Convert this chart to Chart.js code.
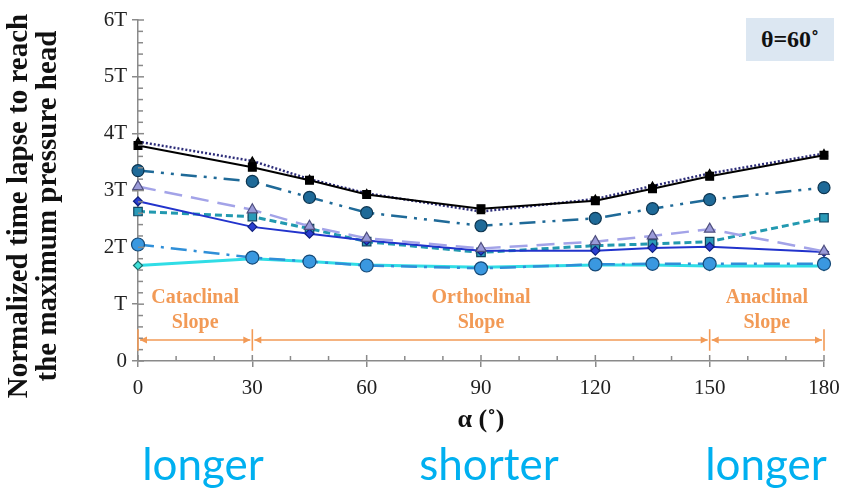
<!DOCTYPE html>
<html><head><meta charset="utf-8">
<script src="https://cdn.jsdelivr.net/npm/chart.js@4.4.1/dist/chart.umd.min.js"></script>
<style>
html,body{margin:0;padding:0;background:#fff;}
#wrap{position:relative;width:849px;height:494px;overflow:hidden;background:#fff;}
#c{position:absolute;left:0;top:0;}
.word{position:absolute;top:439px;font-family:Lato,"Open Sans",sans-serif;font-size:44px;color:#00b0f0;transform:translateX(-50%);line-height:1.1;white-space:nowrap;}
#theta{position:absolute;left:746px;top:18px;width:88px;height:43px;background:#dce7f2;font-family:"Liberation Serif","Times New Roman",serif;font-weight:bold;font-size:24px;color:#111;display:flex;align-items:center;justify-content:center;}
</style></head>
<body>
<div id="wrap">
<canvas id="c" width="849" height="494"></canvas>
<div id="theta">θ=60˚</div>
<div class="word" style="left:203px">longer</div>
<div class="word" style="left:489px">shorter</div>
<div class="word" style="left:766px">longer</div>
</div>
<script>
// ---- data ----
const angles = [0, 30, 45, 60, 90, 120, 135, 150, 180];
const seriesA = [3.79, 3.41, 3.18, 2.93, 2.68, 2.82, 3.03, 3.25, 3.62]; // black squares
const seriesB = [3.86, 3.52, 3.20, 2.95, 2.63, 2.85, 3.08, 3.30, 3.65]; // dotted, triangles
const seriesC = [3.35, 3.16, 2.88, 2.61, 2.38, 2.51, 2.68, 2.84, 3.05]; // dash-dot-dot circles
const seriesD = [3.07, 2.66, 2.37, 2.16, 1.98, 2.10, 2.20, 2.32, 1.93]; // purple dashed triangles
const seriesE = [2.81, 2.36, 2.24, 2.12, 1.94, 1.94, 1.99, 2.01, 1.92]; // blue diamonds
const seriesF = [2.63, 2.54, 2.33, 2.10, 1.91, 2.03, 2.06, 2.10, 2.52]; // teal dashed squares
const seriesG = [2.05, 1.82, 1.75, 1.68, 1.63, 1.70, 1.71, 1.71, 1.71]; // dash-dot circles
const seriesH = [1.68, 1.80, 1.75, 1.69, 1.65, 1.69, 1.69, 1.67, 1.67]; // cyan diamonds
const yTickLabels = ['0', 'T', '2T', '3T', '4T', '5T', '6T'];
const xTicks = [0, 30, 60, 90, 120, 150, 180];
const regionBounds = [0, 30, 150, 180];
const regionNames = [['Cataclinal', 'Slope'], ['Orthoclinal', 'Slope'], ['Anaclinal', 'Slope']];
const regionArrowLevel = 0.37;
const regionTextLevels = [1.11, 0.67];
const yTitle = ['Normalized time lapse to reach', 'the maximum pressure head'];
const xTitle = 'α (˚)';

const ORANGE = '#f29a56';
const AXIS = '#8a8a8a';
const pts = arr => angles.map((a, i) => ({x: a, y: arr[i]}));

function ds(label, arr, o) {
  return Object.assign({label, data: pts(arr), fill: false, tension: 0, clip: false,
    pointBorderWidth: 1.2}, o);
}

const datasets = [
  ds('A', seriesA, {borderColor: '#000', borderWidth: 2, pointStyle: 'rect', pointRadius: 5.5, pointBackgroundColor: '#000', pointBorderColor: '#000'}),
  ds('B', seriesB, {borderColor: '#2c2c78', borderWidth: 2.5, borderDash: [2, 2], pointStyle: 'triangle', pointRadius: 4, pointBackgroundColor: '#111', pointBorderColor: '#000'}),
  ds('C', seriesC, {borderColor: '#1f6a98', borderWidth: 2.5, borderDash: [16, 7, 3, 7, 3, 7], pointStyle: 'circle', pointRadius: 6, pointBackgroundColor: '#1f6a98', pointBorderColor: '#0d3550'}),
  ds('D', seriesD, {borderColor: '#a3a3e8', borderWidth: 2.5, borderDash: [18, 9], pointStyle: 'triangle', pointRadius: 6, pointBackgroundColor: '#9a9ad8', pointBorderColor: '#505080'}),
  ds('E', seriesE, {borderColor: '#2233cc', borderWidth: 2, pointStyle: 'rectRot', pointRadius: 4.5, pointBackgroundColor: '#2a3fd0', pointBorderColor: '#102080'}),
  ds('F', seriesF, {borderColor: '#2299b0', borderWidth: 3, borderDash: [7, 4], pointStyle: 'rect', pointRadius: 6, pointBackgroundColor: '#2a9ab8', pointBorderColor: '#124560'}),
  ds('G', seriesG, {borderColor: '#2f8fd8', borderWidth: 2.5, borderDash: [16, 7, 3, 7], pointStyle: 'circle', pointRadius: 6.5, pointBackgroundColor: '#3a98e0', pointBorderColor: '#164a78'}),
  ds('H', seriesH, {borderColor: '#30dde6', borderWidth: 3, pointStyle: 'rectRot', pointRadius: 4.5, pointBackgroundColor: '#3fe0d8', pointBorderColor: '#1a6a6a'})
];

const decor = {
  id: 'decor',
  afterDraw(chart) {
    const {ctx, scales: {x, y}, chartArea: ca} = chart;
    ctx.save();
    // inner tick marks
    ctx.strokeStyle = AXIS; ctx.lineWidth = 1.5;
    for (let v = 0; v <= 180; v += 10) {
      const px = x.getPixelForValue(v);
      ctx.beginPath(); ctx.moveTo(px, ca.bottom); ctx.lineTo(px, ca.bottom - (v % 30 === 0 ? 6 : 5)); ctx.stroke();
    }
    for (let i = 0; i <= 30; i++) {
      const py = y.getPixelForValue(i / 5);
      ctx.beginPath(); ctx.moveTo(ca.left, py); ctx.lineTo(ca.left + (i % 5 === 0 ? 6 : 5), py); ctx.stroke();
    }
    // slope regions
    ctx.strokeStyle = ORANGE; ctx.fillStyle = ORANGE; ctx.lineWidth = 1.6;
    const ya = y.getPixelForValue(regionArrowLevel);
    const yb1 = y.getPixelForValue(regionArrowLevel - 0.19), yb2 = y.getPixelForValue(regionArrowLevel + 0.19);
    regionBounds.forEach(b => {
      const px = x.getPixelForValue(b);
      ctx.beginPath(); ctx.moveTo(px, yb1); ctx.lineTo(px, yb2); ctx.stroke();
    });
    const head = (px, dir) => {
      ctx.beginPath(); ctx.moveTo(px, ya); ctx.lineTo(px + dir * 7, ya - 3.5); ctx.lineTo(px + dir * 7, ya + 3.5); ctx.closePath(); ctx.fill();
    };
    ctx.font = 'bold 20px "Liberation Serif", serif';
    ctx.textAlign = 'center'; ctx.textBaseline = 'middle';
    for (let i = 0; i < regionBounds.length - 1; i++) {
      const a = x.getPixelForValue(regionBounds[i]) + 2, b = x.getPixelForValue(regionBounds[i + 1]) - 2;
      ctx.beginPath(); ctx.moveTo(a, ya); ctx.lineTo(b, ya); ctx.stroke();
      head(a, 1); head(b, -1);
      const cx = (a + b) / 2;
      regionNames[i].forEach((t, k) => ctx.fillText(t, cx, y.getPixelForValue(regionTextLevels[k])));
    }
    // y title
    ctx.fillStyle = '#111';
    ctx.font = 'bold 29px "Liberation Serif", serif';
    ctx.translate(0, 206);
    ctx.rotate(-Math.PI / 2);
    ctx.fillText(yTitle[0], 0, 20);
    ctx.fillText(yTitle[1], 0, 49);
    ctx.restore();
  }
};

new Chart(document.getElementById('c'), {
  type: 'line',
  data: {datasets},
  options: {
    responsive: false, animation: false,
    layout: {padding: {left: 0, right: 25, top: 20, bottom: 0}},
    plugins: {legend: {display: false}, tooltip: {enabled: false}},
    scales: {
      x: {
        type: 'linear', min: 0, max: 180,
        afterBuildTicks: s => { s.ticks = xTicks.map(v => ({value: v})); },
        afterFit: s => { s.height = 133; },
        grid: {drawOnChartArea: false, drawTicks: true, tickLength: 6, color: AXIS, lineWidth: 1.5},
        border: {color: AXIS, width: 1.5},
        ticks: {color: '#222', padding: 9, maxRotation: 0, font: {family: '"Liberation Serif", serif', size: 21}},
        title: {display: true, text: xTitle, color: '#111', font: {family: '"Liberation Serif", serif', size: 26, weight: 'bold'}, padding: {top: 0, bottom: 58}}
      },
      y: {
        type: 'linear', min: 0, max: 6,
        afterBuildTicks: s => { s.ticks = yTickLabels.map((t, i) => ({value: i})); },
        afterFit: s => { s.width = 138; },
        grid: {drawOnChartArea: false, drawTicks: true, tickLength: 6, color: AXIS, lineWidth: 1.5},
        border: {color: AXIS, width: 1.5},
        ticks: {color: '#222', padding: 5, font: {family: '"Liberation Serif", serif', size: 21},
          callback: v => yTickLabels[Math.round(v)]}
      }
    }
  },
  plugins: [decor]
});
</script>
</body></html>
